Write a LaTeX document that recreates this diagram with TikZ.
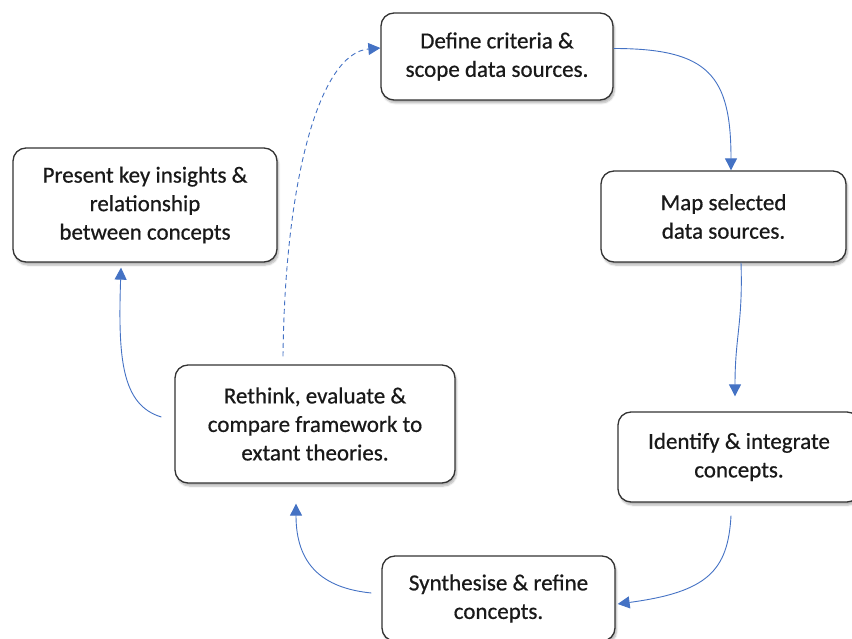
\documentclass[tikz,border=0pt]{standalone}
\usepackage{fontspec}
\setmainfont{Carlito}[FakeBold=0.6]
\usetikzlibrary{arrows.meta,shadows.blur}
\definecolor{flowblue}{HTML}{4472C4}
\tikzset{
  stage/.style={draw=black!80, line width=1.3pt, rounded corners=13pt, fill=white,
    align=center, inner sep=0pt, text=black!90,
    font=\fontsize{23}{28.5}\selectfont,
    blur shadow={shadow xshift=1.5pt, shadow yshift=-3pt, shadow opacity=30, shadow blur steps=6}},
  flow/.style={draw=flowblue, line width=0.9pt, -{Triangle[length=12pt,width=12pt]}},
  loopback/.style={flow, dash pattern=on 5pt off 3.5pt}
}
\begin{document}
\begin{tikzpicture}[x=1pt,y=-1pt]
\useasboundingbox (0,0) rectangle (852,639);

% process stages
\node[stage, minimum width=232pt, minimum height=87pt] (A) at (497,56.5)
  {Define criteria \&\\scope data sources.};
\node[stage, minimum width=245pt, minimum height=91pt] (B) at (723.5,216.5)
  {Map selected\\data sources.};
\node[stage, minimum width=242pt, minimum height=90pt] (C) at (739,457)
  {Identify \& integrate\\concepts.};
\node[stage, minimum width=233pt, minimum height=85pt] (D) at (498.5,598.5)
  {Synthesise \& refine\\concepts.};
\node[stage, minimum width=280pt, minimum height=118pt] (E) at (315,424)
  {Rethink, evaluate \&\\compare framework to\\extant theories.};
\node[stage, minimum width=264pt, minimum height=114pt] (F) at (145,205)
  {Present key insights \&\\relationship\\between concepts};

% main cycle
\draw[flow] ([yshift=8pt]A.east) .. controls +(95,0) and +(0,-95) .. ([xshift=7.5pt]B.north);
\draw[flow] ([xshift=17.5pt]B.south) .. controls +(2,60) and +(0,-60) .. ([xshift=-4pt,yshift=15pt]C.north);
\draw[flow] ([xshift=-8pt,yshift=-13pt]C.south) .. controls +(-3,55) and +(90,-12) .. ([xshift=2pt,yshift=-5.5pt]D.east);
\draw[flow] ([xshift=-10pt,yshift=5.5pt]D.west) .. controls +(-50,-5) and +(0,60) .. ([xshift=-19pt,yshift=-20pt]E.south);
\draw[flow] ([xshift=-13pt,yshift=7pt]E.west) .. controls +(-40,-12) and +(-3,90) .. ([xshift=-24pt,yshift=-5pt]F.south);

% iteration back to the start
\draw[loopback] ([xshift=-32pt,yshift=8pt]E.north) .. controls +(2,-180) and +(-60,5) .. ([yshift=8.5pt]A.west);
\end{tikzpicture}
\end{document}
